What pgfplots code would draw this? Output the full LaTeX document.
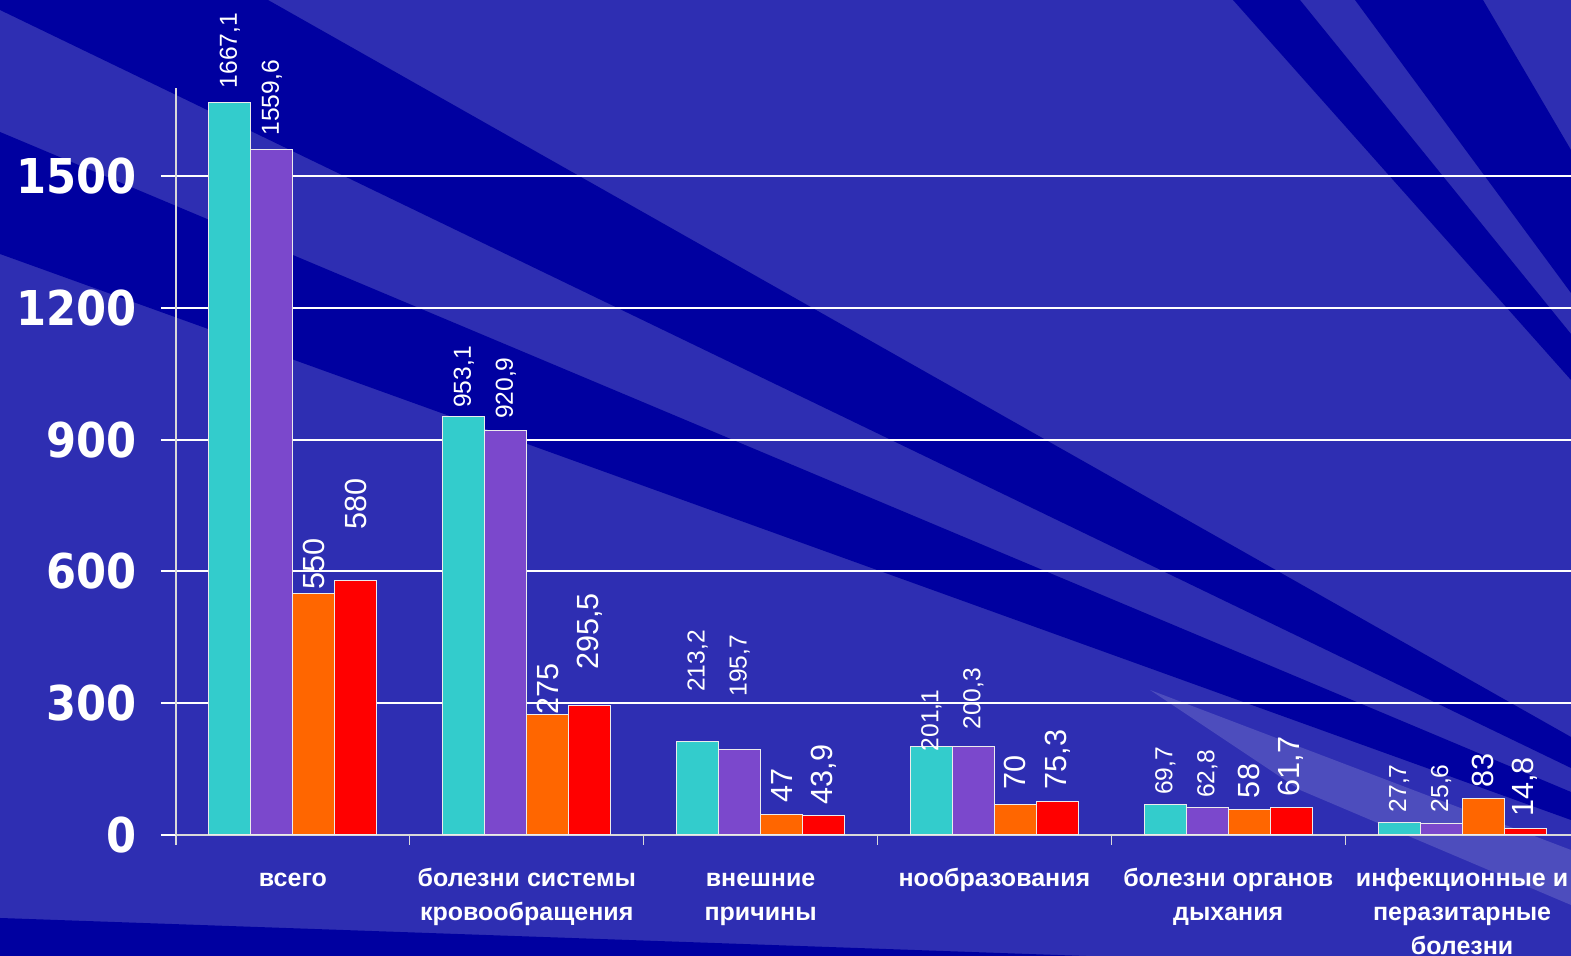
\documentclass[border=0pt]{standalone}
\usepackage{fontspec}
\setmainfont{Liberation Sans}
\newfontfamily\tickfont[FakeStretch=0.9]{DejaVu Sans}
\usepackage{pgfplots}
\usepackage{pgfplotstable}
\pgfplotsset{compat=1.18}
\definecolor{bgdark}{RGB}{0,0,160}
\definecolor{bglight}{RGB}{46,46,178}
\definecolor{ccyan}{RGB}{51,204,204}
\definecolor{cpurple}{RGB}{123,72,204}
\definecolor{corange}{RGB}{255,102,0}
\definecolor{cred}{RGB}{255,0,0}

\pgfplotstableread{
x y lab off
0 1667.1 1667,1 7
1 953.1 953,1 4
2 213.2 213,2 24.5
3 201.1 201,1 -2.5
4 69.7 69,7 4.5
5 27.7 27,7 5
}\tcyan
\pgfplotstableread{
x y lab off
0 1559.6 1559,6 7
1 920.9 920,9 5.5
2 195.7 195,7 26
3 200.3 200,3 8.5
4 62.8 62,8 4.5
5 25.6 25,6 5.5
}\tpurple
\pgfplotstableread{
x y lab off
0 550 550 1.5
1 275 275 -0.5
2 47 47 5.5
3 70 70 7
4 58 58 5.5
5 83 83 5.5
}\torange
\pgfplotstableread{
x y lab off
0 580 580 25
1 295.5 295,5 17.5
2 43.9 43,9 5.5
3 75.3 75,3 6
4 61.7 61,7 5.5
5 14.8 14,8 5.5
}\tred

\begin{document}
\begin{tikzpicture}
\path[use as bounding box, clip] (0,0) rectangle (785.5pt,478pt);
\fill[bglight] (0,0) rectangle (785.5pt,478pt);
\begin{scope}[yshift=478pt, x=0.5pt, y=-0.5pt]
\fill[bgdark] (0,0) -- (268,0) -- (1571,737) -- (1571,768) -- (0,10) -- cycle;
\fill[bgdark] (0,132) -- (1571,792) -- (1571,820) -- (0,254) -- cycle;
\fill[bgdark] (1233,0) -- (1300,0) -- (1571,334) -- (1571,380) -- cycle;
\fill[bgdark] (1355,0) -- (1483,0) -- (1571,150) -- (1571,293) -- cycle;
\fill[bgdark] (0,918) -- (1200,960) -- (0,960) -- cycle;
\fill[white, opacity=0.15] (1150,690) -- (1571,850) -- (1571,905) -- (1300,790) -- cycle;
\end{scope}
\begin{axis}[
 at={(88pt,60.5pt)}, anchor=south west,
 scale only axis, width=701.5pt, height=373.4pt,
 xmin=-0.5, xmax=5.5, ymin=0, ymax=1700,
 ybar=0pt, bar width=21pt,
 axis x line*=bottom, axis y line*=left,
 axis line style={-, draw=white!70!gray, line width=0.6pt},
 ytick={0,300,600,900,1200,1500},
 ymajorgrids, major grid style={white, line width=1pt},
 tick align=outside, major tick length=7.5pt, minor tick length=5pt,
 major y tick style={white, line width=1pt},
 major x tick style={draw=none},
 minor x tick style={draw=white!70!gray, line width=0.6pt},
 xtick={0,...,5}, minor xtick={-0.5,0.5,1.5,2.5,3.5,4.5},
 xticklabels={{\strut всего},{\strut болезни системы\\кровообращения},{\strut внешние\\причины},{\strut нообразования},{\strut болезни органов\\дыхания},{\strut инфекционные и\\перазитарные\\болезни}},
 x tick label style={align=center, text=white, font=\fontsize{12.5}{17}\selectfont\bfseries, anchor=north, yshift=-3pt},
 y tick label style={text=white, font=\tickfont\fontsize{24}{28}\selectfont\bfseries, xshift=-8.5pt},
 /pgf/number format/assume math mode=true, /pgf/number format/1000 sep={},
 visualization depends on={\thisrow{off}\as\off},
 nodes near coords, point meta=explicit symbolic,
 every node near coord/.append style={yshift=\off pt, rotate=90, anchor=west, inner sep=0pt, text=white},
]
\addplot[fill=ccyan, draw=white!85!gray, line width=0.5pt, every node near coord/.append style={font=\fontsize{12.3}{14}\selectfont}] table[x=x,y=y,meta=lab]{\tcyan};
\addplot[fill=cpurple, draw=white!85!gray, line width=0.5pt, every node near coord/.append style={font=\fontsize{12.3}{14}\selectfont}] table[x=x,y=y,meta=lab]{\tpurple};
\addplot[fill=corange, draw=white!85!gray, line width=0.5pt, every node near coord/.append style={font=\fontsize{15.3}{17}\selectfont}] table[x=x,y=y,meta=lab]{\torange};
\addplot[fill=cred, draw=white!85!gray, line width=0.5pt, every node near coord/.append style={font=\fontsize{15.3}{17}\selectfont}] table[x=x,y=y,meta=lab]{\tred};
\end{axis}
\end{tikzpicture}
\end{document}
